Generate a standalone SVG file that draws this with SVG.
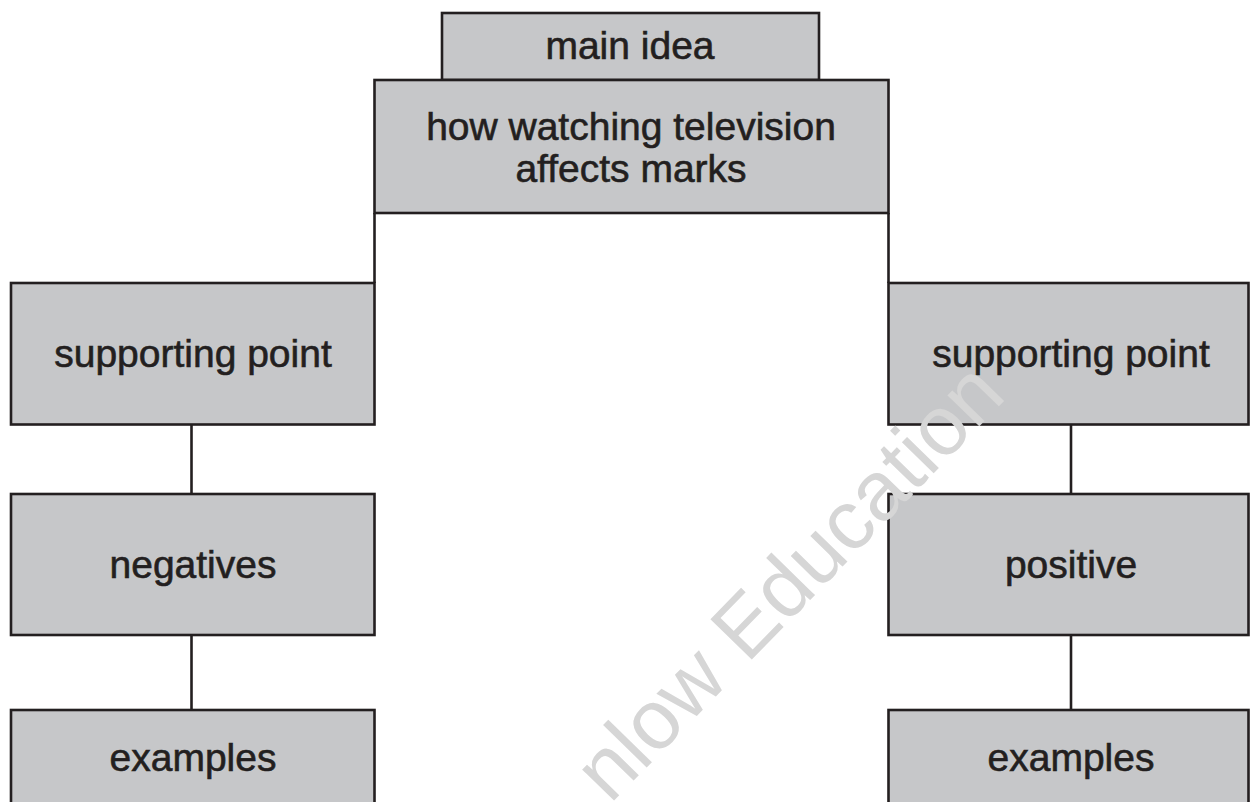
<svg xmlns="http://www.w3.org/2000/svg" width="1250" height="802" viewBox="0 0 1250 802">
<style>
.box{fill:#c6c7c9;stroke:#231f20;stroke-width:2.6}
.lbl{font-family:"Liberation Sans",Arial,sans-serif;font-size:39px;fill:#231f20;stroke:#231f20;stroke-width:0.6;text-anchor:middle}
.conn{stroke:#231f20;stroke-width:2.6;fill:none}
.wm{font-family:"Liberation Sans",Arial,sans-serif;font-size:84px;fill:#d6d6d6;text-anchor:middle}
</style>
<rect width="1250" height="802" fill="#ffffff"/>
<g id="connectors">
<line class="conn" x1="374.5" y1="213" x2="374.5" y2="283"/>
<line class="conn" x1="888.5" y1="213" x2="888.5" y2="283"/>
<line class="conn" x1="191.5" y1="424.5" x2="191.5" y2="494"/>
<line class="conn" x1="191.5" y1="635" x2="191.5" y2="710"/>
<line class="conn" x1="1071" y1="424.5" x2="1071" y2="494"/>
<line class="conn" x1="1071" y1="635" x2="1071" y2="710"/>
</g>
<g id="main-idea">
<rect class="box" x="442" y="13" width="377" height="67"/>
<text class="lbl" x="630" y="59">main idea</text>
</g>
<g id="topic">
<rect class="box" x="374.5" y="80" width="514" height="133"/>
<text class="lbl" x="631" y="140">how watching television</text>
<text class="lbl" x="631" y="182">affects marks</text>
</g>
<g id="supporting-left">
<rect class="box" x="11" y="283" width="363.5" height="141.5"/>
<text class="lbl" x="193" y="367">supporting point</text>
</g>
<g id="negatives">
<rect class="box" x="11" y="494" width="363.5" height="141"/>
<text class="lbl" x="193" y="578">negatives</text>
</g>
<g id="examples-left">
<rect class="box" x="11" y="710" width="363.5" height="110"/>
<text class="lbl" x="193" y="771">examples</text>
</g>
<g id="supporting-right">
<rect class="box" x="888.5" y="283" width="360" height="141.5"/>
<text class="lbl" x="1071" y="367">supporting point</text>
</g>
<g id="positive">
<rect class="box" x="888.5" y="494" width="360" height="141"/>
<text class="lbl" x="1071" y="578">positive</text>
</g>
<g id="examples-right">
<rect class="box" x="888.5" y="710" width="360" height="110"/>
<text class="lbl" x="1071" y="771">examples</text>
</g>
<text class="wm" transform="translate(809,601) rotate(-45.7)">nlow Education</text>
</svg>
